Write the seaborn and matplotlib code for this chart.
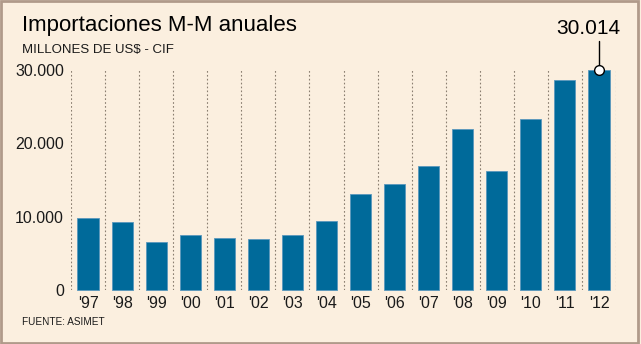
import matplotlib
matplotlib.use("Agg")
import matplotlib.pyplot as plt
import seaborn as sns
import pandas as pd
from matplotlib.patches import Rectangle

years = ["'97", "'98", "'99", "'00", "'01", "'02", "'03", "'04",
         "'05", "'06", "'07", "'08", "'09", "'10", "'11", "'12"]
values = [9850, 9300, 6500, 7500, 7100, 6950, 7500, 9350,
          13050, 14450, 16900, 21900, 16200, 23250, 28700, 30014]
ytick_values = [0, 10000, 20000, 30000]
ytick_labels = ["0", "10.000", "20.000", "30.000"]
title = "Importaciones M-M anuales"
subtitle = "MILLONES DE US$ - CIF"
source = "FUENTE: ASIMET"
highlight_label = "30.014"

df = pd.DataFrame({"year": years, "value": values})

sns.set_style("white")
plt.rcParams["font.family"] = ["Liberation Sans", "DejaVu Sans"]

bg = "#fbefdf"
bar_color = "#006a9a"
text_color = "#1a1a1a"

fig = plt.figure(figsize=(6.41, 3.44), dpi=100, facecolor=bg)
ax = fig.add_axes([71/641, 54/344, 545/641, 220/344])
ax.set_facecolor(bg)

sns.barplot(data=df, x="year", y="value", color=bar_color, width=0.62,
            edgecolor="#5a97bd", linewidth=0.6, saturation=1, ax=ax)
for p in ax.patches:
    p.set_clip_on(False)

ax.set_xlim(-0.5, len(years) - 0.5)
ax.set_ylim(0, 30000)

# dotted separators between categories
for i in range(len(years) + 1):
    ax.axvline(i - 0.5, color="#8a7e70", linestyle=(0, (1.5, 2)),
               linewidth=0.8, zorder=0)

for s in ax.spines.values():
    s.set_visible(False)

ax.set_yticks(ytick_values)
ax.set_yticklabels(ytick_labels)
ax.tick_params(axis="y", length=0, pad=5, labelsize=11.5, labelcolor=text_color)
ax.tick_params(axis="x", length=0, pad=4, labelsize=11.5, labelcolor=text_color)
ax.set_xlabel("")
ax.set_ylabel("")

# highlight marker on last bar
last = len(years) - 1
ax.plot([last, last], [values[-1], values[-1] + 4000], color="black",
        linewidth=1, clip_on=False, zorder=5)
ax.plot(last, values[-1], marker="o", markersize=7, markerfacecolor="white",
        markeredgecolor="black", markeredgewidth=1, clip_on=False, zorder=6)
ax.annotate(highlight_label, xy=(last, values[-1]), xytext=(-8, 30),
            textcoords="offset points", ha="center", va="center",
            fontsize=15, color="black", annotation_clip=False)

fig.text(22/641, 1 - 25/344, title, fontsize=16, color="black",
         ha="left", va="center")
fig.text(22/641, 1 - 50/344, subtitle, fontsize=9.5, color=text_color,
         ha="left", va="center")
fig.text(22/641, 1 - 322/344, source, fontsize=7.2, color=text_color,
         ha="left", va="center")

fig.patches.append(Rectangle((0.002, 0.003), 0.994, 0.994, transform=fig.transFigure,
                             fill=False, edgecolor="#b09a8a", linewidth=2.0))

fig.savefig("out.png", dpi=100, facecolor=bg)
